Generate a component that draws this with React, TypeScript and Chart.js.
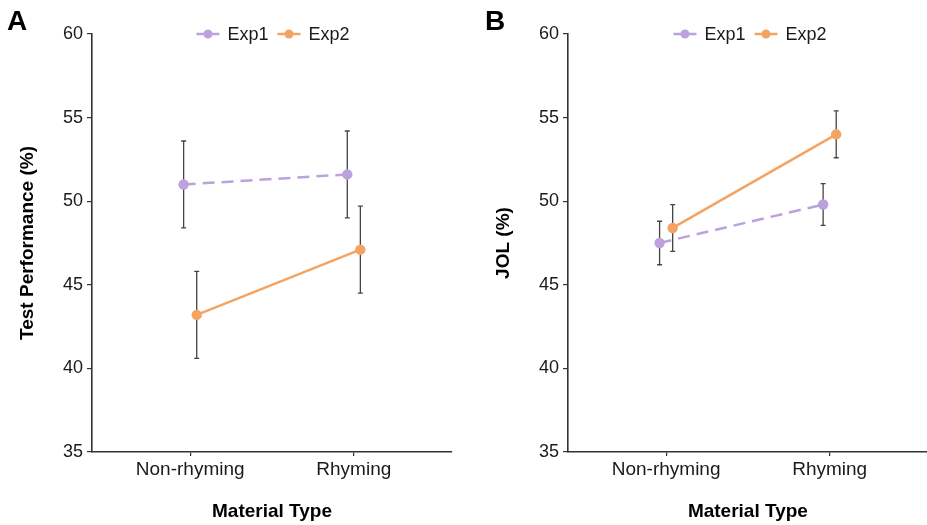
import React, { useEffect, useRef } from "react";
import { Chart, registerables } from "chart.js";

Chart.register(...registerables);

const categories = ["Non-rhyming", "Rhyming"];
const seriesNames = ["Exp1", "Exp2"];
const testExp1 = [51.0, 51.6];
const testExp1Err = [2.6, 2.6];
const testExp2 = [43.2, 47.1];
const testExp2Err = [2.6, 2.6];
const jolExp1 = [47.5, 49.8];
const jolExp1Err = [1.3, 1.25];
const jolExp2 = [48.4, 54.0];
const jolExp2Err = [1.4, 1.4];
const yTicks = [35, 40, 45, 50, 55, 60];

const PURPLE = "#BBA2DD";
const ORANGE = "#F4A462";
const INK = "#1a1a1a";
const FONT = "'Liberation Sans', Arial, sans-serif";
const DODGE = 0.04;

const errorBarPlugin = {
  id: "errorBars",
  beforeDatasetsDraw(chart: any) {
    const ctx = chart.ctx;
    const yScale = chart.scales.y;
    ctx.save();
    ctx.strokeStyle = "#444444";
    ctx.lineWidth = 1.3;
    chart.data.datasets.forEach((ds: any, di: number) => {
      const meta = chart.getDatasetMeta(di);
      meta.data.forEach((pt: any, i: number) => {
        const v = ds.data[i].y;
        const e = ds.errors[i];
        const yTop = yScale.getPixelForValue(v + e);
        const yBot = yScale.getPixelForValue(v - e);
        const x = pt.x;
        ctx.beginPath();
        ctx.moveTo(x, yTop);
        ctx.lineTo(x, yBot);
        ctx.moveTo(x - 2.5, yTop);
        ctx.lineTo(x + 2.5, yTop);
        ctx.moveTo(x - 2.5, yBot);
        ctx.lineTo(x + 2.5, yBot);
        ctx.stroke();
      });
    });
    ctx.restore();
  },
};

const overlayPlugin = {
  id: "overlay",
  afterDraw(chart: any, _args: any, opts: any) {
    const ctx = chart.ctx;
    const area = chart.chartArea;
    ctx.save();
    ctx.fillStyle = "#000";
    ctx.font = `bold 28px ${FONT}`;
    ctx.textBaseline = "alphabetic";
    ctx.textAlign = "left";
    ctx.fillText(opts.letter, opts.letterX, 30);
    ctx.font = `18px ${FONT}`;
    const iconW = 23;
    const gapIconText = 8;
    const gapItems = 9;
    const widths = seriesNames.map((n) => ctx.measureText(n).width);
    const total =
      iconW * 2 + gapIconText * 2 + widths[0] + widths[1] + gapItems;
    let x = opts.legendCenter - total / 2;
    const y = area.top;
    const colors = [PURPLE, ORANGE];
    seriesNames.forEach((n, i) => {
      ctx.strokeStyle = colors[i];
      ctx.lineWidth = 2.5;
      ctx.beginPath();
      ctx.moveTo(x, y);
      ctx.lineTo(x + iconW, y);
      ctx.stroke();
      ctx.fillStyle = colors[i];
      ctx.beginPath();
      ctx.arc(x + iconW / 2, y, 4.5, 0, Math.PI * 2);
      ctx.fill();
      x += iconW + gapIconText;
      ctx.fillStyle = INK;
      ctx.textBaseline = "middle";
      ctx.fillText(n, x, y + 1);
      x += widths[i] + gapItems;
    });
    ctx.restore();
  },
};

function makeConfig(
  v1: number[],
  e1: number[],
  v2: number[],
  e2: number[],
  yTitle: string,
  yWidth: number,
  yTitlePad: number,
  padRight: number,
  letter: string,
  letterX: number,
  legendCenter: number
): any {
  const pts = (vals: number[], d: number) =>
    vals.map((v, i) => ({ x: i + 1 + d, y: v }));
  return {
    type: "line",
    data: {
      datasets: [
        {
          label: seriesNames[0],
          data: pts(v1, -DODGE),
          errors: e1,
          borderColor: PURPLE,
          backgroundColor: PURPLE,
          borderWidth: 2.5,
          borderDash: [12, 7],
          pointRadius: 5.2,
          pointBorderWidth: 0,
          pointBackgroundColor: PURPLE,
        },
        {
          label: seriesNames[1],
          data: pts(v2, DODGE),
          errors: e2,
          borderColor: ORANGE,
          backgroundColor: ORANGE,
          borderWidth: 2.5,
          pointRadius: 5.2,
          pointBorderWidth: 0,
          pointBackgroundColor: ORANGE,
        },
      ],
    },
    options: {
      responsive: false,
      animation: false,
      events: [],
      layout: { padding: { left: 0, right: padRight, top: 34, bottom: 0 } },
      plugins: {
        legend: { display: false },
        tooltip: { enabled: false },
        overlay: { letter, letterX, legendCenter },
      },
      scales: {
        x: {
          type: "linear",
          min: 0.4,
          max: 2.6,
          afterBuildTicks: (s: any) => {
            s.ticks = categories.map((_, i) => ({ value: i + 1 }));
          },
          afterFit: (s: any) => {
            s.height = 73;
          },
          ticks: {
            callback: (val: number) => categories[Math.round(val) - 1] ?? "",
            font: { family: FONT, size: 19 },
            color: INK,
            padding: 2,
            maxRotation: 0,
            autoSkip: false,
          },
          grid: {
            display: true,
            drawOnChartArea: false,
            drawTicks: true,
            tickLength: 4,
            color: "#333",
            lineWidth: 1.2,
          },
          border: { display: true, color: "#333", width: 1.6 },
          title: {
            display: true,
            text: "Material Type",
            font: { family: FONT, size: 19, weight: "bold" },
            color: "#000",
            padding: { top: 0, bottom: 2 },
          },
        },
        y: {
          type: "linear",
          min: 35,
          max: 60,
          afterBuildTicks: (s: any) => {
            s.ticks = yTicks.map((v) => ({ value: v }));
          },
          afterFit: (s: any) => {
            s.width = yWidth;
          },
          ticks: {
            font: { family: FONT, size: 18 },
            color: INK,
            padding: 4,
          },
          grid: {
            display: true,
            drawOnChartArea: false,
            drawTicks: true,
            tickLength: 5,
            color: "#333",
            lineWidth: 1.2,
          },
          border: { display: true, color: "#333", width: 1.6 },
          title: {
            display: true,
            text: yTitle,
            font: { family: FONT, size: 19, weight: "bold" },
            color: "#000",
            padding: { top: yTitlePad, bottom: 0 },
          },
        },
      },
    },
    plugins: [errorBarPlugin, overlayPlugin],
  };
}

function Panel(props: { width: number; config: () => any }) {
  const ref = useRef<HTMLCanvasElement | null>(null);
  useEffect(() => {
    if (!ref.current) return;
    const chart = new Chart(ref.current, props.config());
    return () => chart.destroy();
  }, []);
  return (
    <canvas
      ref={ref}
      width={props.width}
      height={525}
      style={{ width: props.width, height: 525, display: "block", flex: "none" }}
    />
  );
}

export default function App() {
  useEffect(() => {
    document.body.style.margin = "0";
    document.body.style.overflow = "hidden";
  }, []);
  return (
    <div
      style={{
        display: "flex",
        width: 927,
        height: 525,
        overflow: "hidden",
        background: "#fff",
      }}
    >
      <Panel
        width={463}
        config={() =>
          makeConfig(
            testExp1,
            testExp1Err,
            testExp2,
            testExp2Err,
            "Test Performance (%)",
            92,
            16.6,
            11,
            "A",
            7,
            273
          )
        }
      />
      <Panel
        width={470}
        config={() =>
          makeConfig(
            jolExp1,
            jolExp1Err,
            jolExp2,
            jolExp2Err,
            "JOL (%)",
            105,
            29.6,
            0,
            "B",
            22,
            287
          )
        }
      />
    </div>
  );
}
